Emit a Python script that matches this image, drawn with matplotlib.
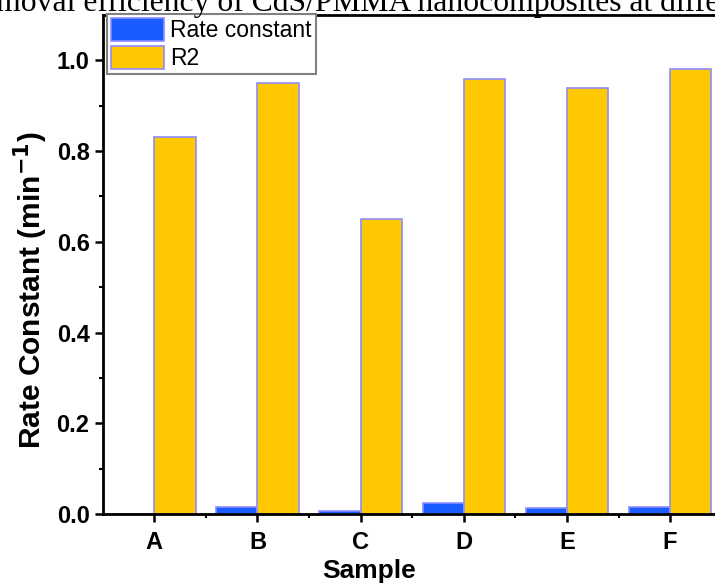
import matplotlib.pyplot as plt
import numpy as np

samples = ['A', 'B', 'C', 'D', 'E', 'F']
rate_constant = [0.0005, 0.016, 0.007, 0.024, 0.013, 0.016]
r2 = [0.83, 0.95, 0.65, 0.96, 0.94, 0.98]

plt.rcParams['font.family'] = ['Liberation Sans', 'DejaVu Sans']

W, H = 715, 588
fig = plt.figure(figsize=(W / 100, H / 100), dpi=100)

# the reference is a cropped screenshot: axes run off the right edge
left, right, top, bottom = 102.7, 721.7, 15, 514
ax = fig.add_axes([left / W, 1 - bottom / H, (right - left) / W, (bottom - top) / H])

x = np.arange(len(samples))
w = 0.4
edge = '#8c8cff'
ax.bar(x - w / 2, rate_constant, w, color='#1a5cff', edgecolor=edge, linewidth=1.2,
       label='Rate constant')
ax.bar(x + w / 2, r2, w, color='#ffc800', edgecolor=edge, linewidth=1.2, label='R2')

ax.set_xlim(-0.5, 5.5)
ax.set_ylim(0, 1.1)
ax.set_xticks(x)
ax.set_xticklabels(samples)
ax.set_xticks(x[:-1] + 0.5, minor=True)
ax.set_yticks(np.arange(0, 1.01, 0.2))
ax.set_yticks(np.arange(0.1, 1.01, 0.2), minor=True)

for s in ax.spines.values():
    s.set_linewidth(2)
ax.tick_params(which='major', direction='out', length=5.5, width=1.8, labelsize=17)
ax.tick_params(which='minor', direction='out', length=3, width=1.5)
ax.tick_params(axis='x', which='major', pad=7)
ax.tick_params(axis='y', which='major', pad=4)
for lab in ax.get_xticklabels() + ax.get_yticklabels():
    lab.set_fontweight('bold')

ax.set_xlabel('Sample', fontsize=19, fontweight='bold')
ax.xaxis.set_label_coords((368.6 - left) / (right - left), -0.09)
ax.set_ylabel('Rate Constant (min$^{\\mathbf{-1}}$)', fontsize=21.5, fontweight='bold')
ax.yaxis.set_label_coords((50 - left) / (right - left), (bottom - 290) / (bottom - top))

leg = ax.legend(loc='upper left', bbox_to_anchor=(107 / W, 1 - 14 / H),
                bbox_transform=fig.transFigure, borderaxespad=0, fancybox=False,
                fontsize=16.5, handlelength=2.3, handleheight=1.2, handletextpad=0.3,
                labelspacing=0.15, borderpad=0.17, framealpha=1)
leg.get_frame().set_edgecolor('#808080')
leg.get_frame().set_linewidth(1.5)

# cut-off caption above the chart, as in the screenshot
serif = ['Liberation Serif', 'DejaVu Serif']
t = fig.text(0, 1 - 11 / H, 'Removal efficiency of CdS/PMMA nanocomposites at different',
             family=serif, fontsize=22.8, va='baseline')
r = fig.canvas.get_renderer()
pre = fig.text(0, 0, 'Re', family=serif, fontsize=22.8)
shift = pre.get_window_extent(r).width
pre.remove()
t.set_x(-(shift + 4) / W)

fig.savefig('out.png', dpi=100)
